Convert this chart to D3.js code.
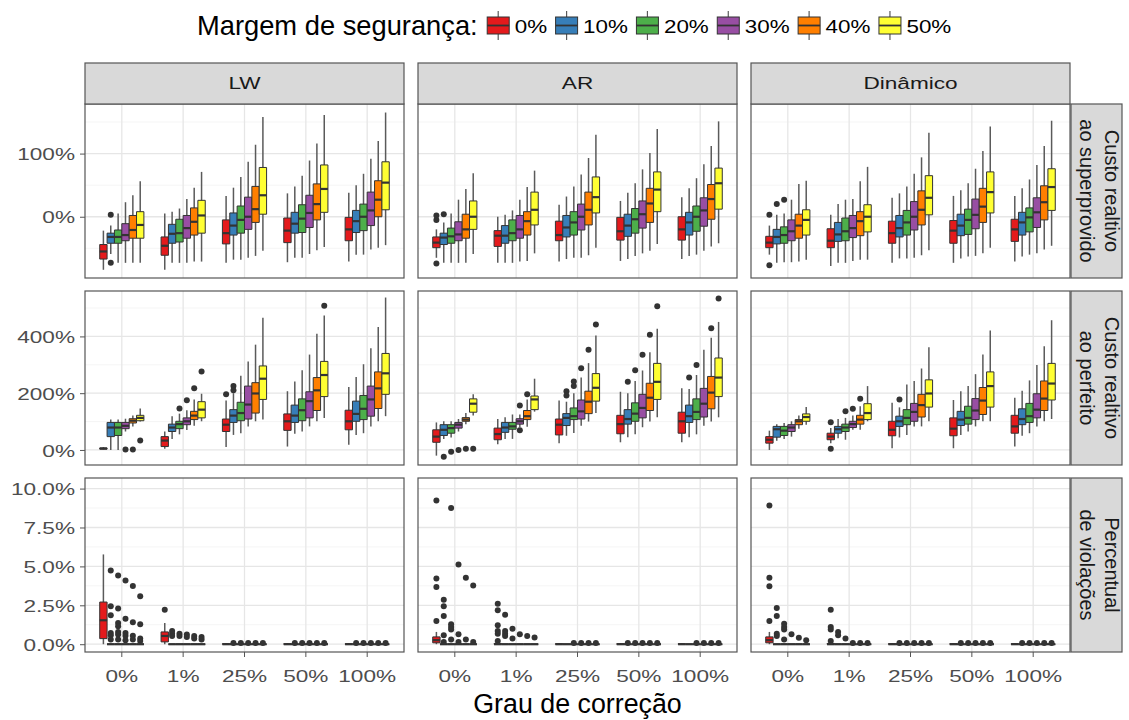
<!DOCTYPE html>
<html>
<head>
<meta charset="utf-8">
<script src="https://cdn.jsdelivr.net/npm/d3@7"></script>
<style>body{margin:0;background:#fff;}</style>
</head>
<body>
<div id="chart"></div>
<script>
// categorias e rótulos
var grau = ['0%', '1%', '25%', '50%', '100%'];
var margem = ['0%', '10%', '20%', '30%', '40%', '50%'];
var metodos = ['LW', 'AR', 'Dinâmico'];
var metricas = [['Custo realtivo', 'ao superprovido'], ['Custo realtivo', 'ao perfeito'], ['Percentual', 'de violações']];
var cores = ['#E41A1C', '#377EB8', '#4DAF4A', '#984EA3', '#FF7F00', '#FFFF33'];

// caixas: [min, q1, mediana, q3, max] em %, 6 margens por grau de correção
var superLW = [
  [-84,-67,-55,-44,-22],[-59,-42,-32,-26,-14],[-73,-42,-32,-21,5],[-73,-38,-29,-11,23],[-73,-34,-21,2,34],[-73,-34,-13,8,56],
  [-84,-61,-46,-32,5],[-73,-42,-27,-12,8],[-73,-40,-26,-4,13],[-73,-34,-18,2,28],[-71,-29,-8,14,46],[-71,-26,2,26,71],
  [-73,-43,-26,-5,33],[-68,-29,-14,6,46],[-68,-26,-5,17,63],[-65,-20,0,31,87],[-62,-9,12,48,114],[-54,4,34,78,158],
  [-72,-41,-22,-2,37],[-65,-26,-11,7,48],[-65,-25,-3,19,65],[-59,-17,6,34,89],[-53,-5,20,52,116],[-48,7,44,82,161],
  [-71,-38,-20,-1,38],[-60,-25,-7,10,50],[-60,-22,0,20,68],[-52,-14,10,39,92],[-49,0,27,57,120],[-45,11,54,87,165]
];
var superAR = [
  [-65,-49,-41,-32,-20],[-73,-44,-33,-26,-9],[-73,-42,-31,-18,5],[-73,-38,-28,-8,27],[-73,-34,-20,4,44],[-59,-20,0,25,69],
  [-73,-47,-30,-22,0],[-73,-42,-30,-14,3],[-73,-38,-26,-5,10],[-71,-34,-20,2,27],[-70,-29,-7,8,47],[-58,-13,11,39,73],
  [-71,-38,-29,-7,19],[-67,-32,-17,2,32],[-65,-29,-9,8,48],[-65,-21,0,20,67],[-61,-13,11,39,93],[-49,6,31,63,130],
  [-70,-37,-23,-1,25],[-67,-31,-14,4,38],[-62,-26,-4,13,53],[-58,-18,4,25,75],[-54,-9,21,45,101],[-43,8,43,71,139],
  [-67,-37,-20,0,31],[-62,-29,-9,7,45],[-60,-23,0,17,61],[-54,-15,10,30,83],[-47,-4,28,51,112],[-42,12,53,77,151]
];
var superDin = [
  [-60,-49,-41,-31,-14],[-73,-43,-32,-20,3],[-72,-42,-29,-16,5],[-72,-38,-23,-5,27],[-71,-34,-14,4,52],[-68,-29,-5,11,57],
  [-78,-49,-38,-19,3],[-73,-39,-28,-9,20],[-73,-38,-23,-2,27],[-70,-33,-18,2,28],[-68,-30,-7,8,56],[-68,-24,0,19,79],
  [-73,-42,-26,-7,30],[-66,-32,-18,2,37],[-66,-29,-9,10,48],[-65,-21,0,24,68],[-61,-13,11,41,94],[-53,3,30,65,133],
  [-73,-42,-22,-6,33],[-66,-30,-14,4,42],[-63,-28,-5,12,53],[-62,-19,3,28,76],[-58,-9,16,45,104],[-49,6,39,71,143],
  [-71,-39,-20,-4,33],[-63,-29,-9,7,45],[-60,-24,-1,14,59],[-58,-17,7,30,82],[-52,-5,23,49,112],[-46,10,47,76,152]
];
var perfLW = [
  [2,3,5,7,10],[0,47,79,97,107],[0,51,79,97,107],[65,75,85,97,110],[83,95,103,110,121],[100,103,113,122,146],
  [4,12,33,47,65],[39,65,79,91,119],[55,75,91,101,128],[70,89,101,113,140],[85,107,121,136,178],[101,113,142,170,198],
  [10,65,89,109,174],[53,97,121,142,200],[59,103,130,168,261],[83,109,160,225,312],[101,130,199,237,371],[107,178,251,296,466],
  [12,69,101,127,207],[57,97,121,158,241],[65,103,140,180,281],[83,113,172,205,336],[101,139,210,255,409],[113,188,264,312,474],
  [18,71,101,140,222],[53,101,127,172,257],[59,107,145,192,302],[83,119,178,225,358],[101,146,217,275,433],[119,196,270,340,537]
];
var perfAR = [
  [-20,27,47,71,97],[39,51,71,89,101],[44,59,77,89,101],[65,77,89,97,109],[91,101,107,114,130],[121,133,163,180,196],
  [20,36,56,77,109],[39,62,79,97,115],[39,73,83,97,125],[80,91,101,110,125],[82,107,119,139,178],[135,142,178,190,251],
  [24,53,89,109,174],[50,86,113,128,170],[60,107,119,148,200],[85,109,136,176,255],[100,128,170,207,306],[130,172,219,269,403],
  [27,57,91,122,205],[45,91,109,142,200],[55,101,128,166,243],[80,113,148,196,280],[100,139,184,235,344],[115,178,240,305,427],
  [27,59,101,133,217],[45,97,119,158,215],[55,107,134,180,264],[85,116,163,217,353],[100,145,202,259,395],[115,188,255,324,451]
];
var perfDin = [
  [0,24,36,47,68],[32,45,73,83,91],[39,51,68,83,95],[47,65,79,89,101],[75,89,101,107,121],[89,101,116,127,151],
  [24,36,47,59,77],[41,59,73,83,109],[36,65,79,91,113],[71,79,91,101,121],[71,91,107,122,154],[101,107,130,163,225],
  [6,50,71,101,166],[44,83,101,119,150],[53,89,113,142,231],[83,101,134,164,243],[83,116,158,196,287],[101,151,199,247,362],
  [6,50,75,113,176],[53,86,107,136,207],[65,91,113,154,225],[83,107,139,181,267],[101,125,174,220,336],[101,151,225,275,421],
  [12,59,83,122,184],[50,89,109,145,209],[59,97,119,164,245],[83,113,142,198,299],[101,139,181,243,365],[109,176,234,305,457]
];
var violLW = [
  [0,0.36,1.54,2.71,5.77],[0,0,0,0,0],[0,0,0,0,0],[0,0,0,0,0],[0,0,0,0,0],[0,0,0,0,0],
  [0,0.15,0.53,0.79,1.37],[0,0,0,0,0],[0,0,0,0,0],[0,0,0,0,0],[0,0,0,0,0],[0,0,0,0,0],
  [0,0,0,0.03,0.08],[0,0,0,0,0],[0,0,0,0,0],[0,0,0,0,0],[0,0,0,0,0],[0,0,0,0,0],
  [0,0,0,0.03,0.08],[0,0,0,0,0],[0,0,0,0,0],[0,0,0,0,0],[0,0,0,0,0],[0,0,0,0,0],
  [0,0,0,0.03,0.08],[0,0,0,0,0],[0,0,0,0,0],[0,0,0,0,0],[0,0,0,0,0],[0,0,0,0,0]
];
var violAR = [
  [0,0.09,0.26,0.47,0.79],[0,0,0,0,0],[0,0,0,0,0],[0,0,0,0,0],[0,0,0,0,0],[0,0,0,0,0],
  [0,0,0,0.05,0.12],[0,0,0,0,0],[0,0,0,0,0],[0,0,0,0,0],[0,0,0,0,0],[0,0,0,0,0],
  [0,0,0,0.03,0.08],[0,0,0,0,0],[0,0,0,0,0],[0,0,0,0,0],[0,0,0,0,0],[0,0,0,0,0],
  [0,0,0,0.03,0.08],[0,0,0,0,0],[0,0,0,0,0],[0,0,0,0,0],[0,0,0,0,0],[0,0,0,0,0],
  [0,0,0,0.03,0.08],[0,0,0,0,0],[0,0,0,0,0],[0,0,0,0,0],[0,0,0,0,0],[0,0,0,0,0]
];
var violDin = [
  [0,0.09,0.26,0.47,0.79],[0,0,0,0,0],[0,0,0,0,0],[0,0,0,0,0],[0,0,0,0,0],[0,0,0,0,0],
  [0,0,0,0.05,0.12],[0,0,0,0,0],[0,0,0,0,0],[0,0,0,0,0],[0,0,0,0,0],[0,0,0,0,0],
  [0,0,0,0.03,0.08],[0,0,0,0,0],[0,0,0,0,0],[0,0,0,0,0],[0,0,0,0,0],[0,0,0,0,0],
  [0,0,0,0.03,0.08],[0,0,0,0,0],[0,0,0,0,0],[0,0,0,0,0],[0,0,0,0,0],[0,0,0,0,0],
  [0,0,0,0.03,0.08],[0,0,0,0,0],[0,0,0,0,0],[0,0,0,0,0],[0,0,0,0,0],[0,0,0,0,0]
];

// outliers: [índice do grau, índice da margem, valor %]
var superLWOut = [[0,1,3],[0,1,-73]];
var superAROut = [[0,0,2],[0,0,-5],[0,0,-74],[0,1,4]];
var superDinOut = [[0,0,3],[0,0,-77],[0,1,20],[0,2,27]];
var perfLWOut = [[0,3,2],[0,4,2],[0,5,33],[1,2,146],[1,3,175],[1,4,217],[1,5,276],[2,0,196],[2,1,225],[2,1,210],[3,5,508]];
var perfAROut = [[0,1,-24],[0,2,-6],[0,3,0],[0,4,4],[0,5,4],[1,3,157],[1,3,69],[1,4,196],[2,1,207],[2,1,192],[2,2,241],[2,2,225],
  [2,3,288],[2,4,353],[2,5,442],[3,1,240],[3,2,281],[3,3,335],[3,4,406],[3,5,506],[4,1,255],[4,2,299],[4,4,429],[4,5,534]];
var perfDinOut = [[1,0,98],[1,0,4],[1,2,136],[1,3,145],[1,4,180],[2,1,178]];
var violLWOut = [
  [0,1,4.74],[0,1,2.44],[0,1,1.86],[0,1,0.72],[0,1,0.58],[0,1,0.3],
  [0,2,4.42],[0,2,2.29],[0,2,1.37],[0,2,1.15],[0,2,0.79],[0,2,0.62],[0,2,0.3],
  [0,3,4.1],[0,3,1.64],[0,3,0.72],[0,3,0.55],[0,3,0.25],
  [0,4,3.74],[0,4,1.41],[0,4,0.55],[0,4,0.3],
  [0,5,3.08],[0,5,1.28],[0,5,0.36],[0,5,0.21],
  [1,0,2.22],[1,1,0.85],[1,1,0.68],[1,1,0.53],[1,2,0.68],[1,2,0.53],[1,3,0.62],[1,3,0.47],[1,4,0.53],[1,4,0.36],[1,5,0.47],[1,5,0.3],
  [2,1,0.08],[2,2,0.08],[2,3,0.08],[2,4,0.08],[2,5,0.08],
  [3,1,0.08],[3,2,0.08],[3,3,0.08],[3,4,0.08],[3,5,0.08],
  [4,1,0.08],[4,2,0.08],[4,3,0.08],[4,4,0.08],[4,5,0.08]
];
var violAROut = [
  [0,0,9.23],[0,0,4.22],[0,0,3.68],[0,0,1.49],
  [0,1,2.86],[0,1,2.44],[0,1,1.82],[0,1,0.58],[0,1,0.15],
  [0,2,8.76],[0,2,1.28],[0,2,1.11],[0,2,0.94],[0,2,0.3],
  [0,3,5.13],[0,3,0.64],[0,3,0.15],
  [0,4,4.27],[0,4,0.3],
  [0,5,3.78],[0,5,0.15],
  [1,0,2.6],[1,0,2.18],[1,0,1.22],[1,0,0.85],[1,0,0.68],[1,0,0.21],
  [1,1,1.9],[1,1,0.85],[1,1,0.68],[1,1,0.53],[1,2,1.0],[1,2,0.36],[1,3,0.64],[1,4,0.53],[1,5,0.43],
  [2,2,0.08],[2,3,0.08],[2,4,0.08],[2,5,0.08],
  [3,1,0.08],[3,2,0.08],[3,3,0.08],[3,4,0.08],[3,5,0.08],
  [4,2,0.08],[4,3,0.08],[4,4,0.08],[4,5,0.08]
];
var violDinOut = [
  [0,0,8.91],[0,0,4.27],[0,0,3.72],[0,0,1.49],
  [0,1,2.33],[0,1,1.82],[0,1,0.68],[0,1,0.53],
  [0,2,1.32],[0,2,1.11],[0,2,0.94],[0,2,0.3],
  [0,3,0.64],[0,4,0.41],[0,5,0.26],
  [1,0,2.22],[1,0,1.11],[1,0,0.94],[1,0,0.21],
  [1,1,0.79],[1,1,0.58],[1,2,0.36],[1,3,0.08],[1,4,0.08],[1,5,0.08],
  [2,1,0.08],[2,2,0.08],[2,3,0.08],[2,4,0.08],[2,5,0.08],
  [3,1,0.08],[3,2,0.08],[3,3,0.08],[3,4,0.08],[3,5,0.08],
  [4,1,0.08],[4,2,0.08],[4,3,0.08],[4,4,0.08],[4,5,0.08]
];

// escalas y de cada linha de painéis
var yDomains = [[-97, 178.5], [-53, 560], [-0.5, 10.68]];
var yBreaks = [[0, 100], [0, 200, 400], [0, 2.5, 5, 7.5, 10]];
var yMinor = [[-50, 50, 150], [100, 300, 500], [1.25, 3.75, 6.25, 8.75]];
var yFormat = [d3.format('.0f'), d3.format('.0f'), d3.format('.1f')];

var panelStats = [[superLW, superAR, superDin], [perfLW, perfAR, perfDin], [violLW, violAR, violDin]];
var panelOut = [[superLWOut, superAROut, superDinOut], [perfLWOut, perfAROut, perfDinOut], [violLWOut, violAROut, violDinOut]];

var FONT = '"Liberation Sans", Arial, Helvetica, sans-serif';
var SX = 1.33; // texto horizontal mais largo, como na figura original
var colLeft = [85, 418, 751], panelW = 319;
var rowTop = [104, 291, 478], panelH = 174;
var stripTop = 63, stripRightX = 1071, stripRightW = 51;

var svg = d3.select('#chart').append('svg')
    .attr('width', 1129).attr('height', 720)
    .style('background', '#fff');

function txt(parent, x, y, s, size, anchor, color, sx) {
    return parent.append('text')
        .attr('transform', 'translate(' + x + ',' + y + ') scale(' + (sx || SX) + ',1)')
        .attr('text-anchor', anchor || 'start')
        .style('font-family', FONT).style('font-size', size + 'px')
        .attr('fill', color || '#000')
        .text(s);
}

var x = d3.scaleBand().domain(grau).range([0, panelW]).paddingInner(0).paddingOuter(0.1);
var xd = d3.scaleBand().domain(margem).range([-x.bandwidth() * 0.36, x.bandwidth() * 0.36]);

function drawPanel(r, c) {
    var g = svg.append('g').attr('transform', 'translate(' + colLeft[c] + ',' + rowTop[r] + ')');
    var y = d3.scaleLinear().domain(yDomains[r]).range([panelH, 0]);

    g.append('rect').attr('width', panelW).attr('height', panelH).attr('fill', '#fff');
    g.selectAll('.minor').data(yMinor[r]).enter().append('line')
        .attr('x1', 0).attr('x2', panelW)
        .attr('y1', function(d) { return y(d); }).attr('y2', function(d) { return y(d); })
        .attr('stroke', '#f2f2f2').attr('stroke-width', 0.8);
    g.selectAll('.major').data(yBreaks[r]).enter().append('line')
        .attr('x1', 0).attr('x2', panelW)
        .attr('y1', function(d) { return y(d); }).attr('y2', function(d) { return y(d); })
        .attr('stroke', '#e6e6e6').attr('stroke-width', 1.3);
    g.selectAll('.vgrid').data(grau).enter().append('line')
        .attr('x1', function(d) { return x(d) + x.bandwidth() / 2; })
        .attr('x2', function(d) { return x(d) + x.bandwidth() / 2; })
        .attr('y1', 0).attr('y2', panelH)
        .attr('stroke', '#e6e6e6').attr('stroke-width', 1.3);

    var cx = function(gi, mi) { return x(grau[gi]) + x.bandwidth() / 2 + xd(margem[mi]) + xd.bandwidth() / 2; };
    var bw = xd.bandwidth();

    var box = g.selectAll('.box').data(panelStats[r][c]).enter().append('g');
    box.append('line')
        .attr('x1', function(d, i) { return cx(Math.floor(i / 6), i % 6); })
        .attr('x2', function(d, i) { return cx(Math.floor(i / 6), i % 6); })
        .attr('y1', function(d) { return y(d[0]); }).attr('y2', function(d) { return y(d[4]); })
        .attr('stroke', '#5a5a5a').attr('stroke-width', 1.5);
    box.append('path')
        .attr('d', function(d, i) {
            var x0 = cx(Math.floor(i / 6), i % 6) - bw / 2;
            return 'M' + x0 + ',' + y(d[3]) + 'H' + (x0 + bw) + 'V' + y(d[1]) + 'H' + x0 + 'Z';
        })
        .attr('fill', function(d, i) { return cores[i % 6]; })
        .attr('stroke', '#333').attr('stroke-width', 1);
    box.append('line')
        .attr('x1', function(d, i) { return cx(Math.floor(i / 6), i % 6) - bw / 2; })
        .attr('x2', function(d, i) { return cx(Math.floor(i / 6), i % 6) + bw / 2; })
        .attr('y1', function(d) { return y(d[2]); }).attr('y2', function(d) { return y(d[2]); })
        .attr('stroke', '#333').attr('stroke-width', 2.2);

    g.selectAll('.out').data(panelOut[r][c]).enter().append('circle')
        .attr('cx', function(d) { return cx(d[0], d[1]); })
        .attr('cy', function(d) { return y(d[2]); })
        .attr('r', 3).attr('fill', '#333');

    g.append('rect').attr('width', panelW).attr('height', panelH)
        .attr('fill', 'none').attr('stroke', '#555').attr('stroke-width', 1.2);

    if (c === 0) {
        var ay = g.append('g').call(d3.axisLeft(y).tickValues(yBreaks[r]).tickSize(5)
            .tickFormat(function(d) { return yFormat[r](d) + '%'; }));
        ay.select('.domain').remove();
        ay.selectAll('.tick line').attr('stroke', '#555');
        ay.selectAll('.tick text').attr('x', 0).attr('dy', '0.36em')
            .attr('transform', 'translate(-10,0) scale(' + SX + ',1)')
            .style('font-family', FONT).style('font-size', '17px').attr('fill', '#4d4d4d');
    }
    if (r === 2) {
        var ax = g.append('g').attr('transform', 'translate(0,' + panelH + ')')
            .call(d3.axisBottom(x).tickSize(5));
        ax.select('.domain').remove();
        ax.selectAll('.tick line').attr('stroke', '#555');
        ax.selectAll('.tick text').attr('y', 0).attr('dy', null)
            .attr('transform', 'translate(0,30) scale(' + SX + ',1)')
            .style('font-family', FONT).style('font-size', '17px').attr('fill', '#4d4d4d');
    }
}

for (var r = 0; r < 3; r++) {
    for (var c = 0; c < 3; c++) drawPanel(r, c);
}

// faixas superiores
metodos.forEach(function(m, c) {
    svg.append('rect').attr('x', colLeft[c]).attr('y', stripTop)
        .attr('width', panelW).attr('height', rowTop[0] - stripTop)
        .attr('fill', '#d9d9d9').attr('stroke', '#555').attr('stroke-width', 1.2);
    txt(svg, colLeft[c] + panelW / 2, stripTop + 26, m, 17, 'middle', '#1a1a1a');
});

// faixas à direita
metricas.forEach(function(lines, r) {
    svg.append('rect').attr('x', stripRightX).attr('y', rowTop[r])
        .attr('width', stripRightW).attr('height', panelH)
        .attr('fill', '#d9d9d9').attr('stroke', '#555').attr('stroke-width', 1.2);
    var cy = rowTop[r] + panelH / 2;
    lines.forEach(function(s, k) {
        svg.append('text')
            .attr('transform', 'translate(' + (stripRightX + 34 - k * 25) + ',' + cy + ') rotate(90)')
            .attr('text-anchor', 'middle')
            .style('font-family', FONT).style('font-size', '20px')
            .attr('fill', '#1a1a1a').text(s);
    });
});

// título do eixo x
txt(svg, (colLeft[0] + colLeft[2] + panelW) / 2, 713, 'Grau de correção', 26.8, 'middle', '#000', 1);

// legenda
var lt = txt(svg, 197, 35, 'Margem de segurança:', 27.3, 'start', '#000', 1);
var lx = 197 + lt.node().getComputedTextLength() + 9;
margem.forEach(function(m, i) {
    var k = svg.append('g').attr('transform', 'translate(' + lx + ',0)');
    k.append('line').attr('x1', 11.5).attr('x2', 11.5).attr('y1', 11).attr('y2', 40)
        .attr('stroke', '#5a5a5a').attr('stroke-width', 1.2);
    k.append('rect').attr('x', 0.5).attr('y', 17).attr('width', 22).attr('height', 17)
        .attr('fill', cores[i]).attr('stroke', '#333').attr('stroke-width', 1);
    k.append('line').attr('x1', 0.5).attr('x2', 22.5).attr('y1', 25.5).attr('y2', 25.5)
        .attr('stroke', '#333').attr('stroke-width', 1.8);
    var t = txt(svg, lx + 28, 33, m, 19, 'start', '#000', 1.18);
    lx += 28 + t.node().getComputedTextLength() * 1.18 + 8;
});
</script>
</body>
</html>
